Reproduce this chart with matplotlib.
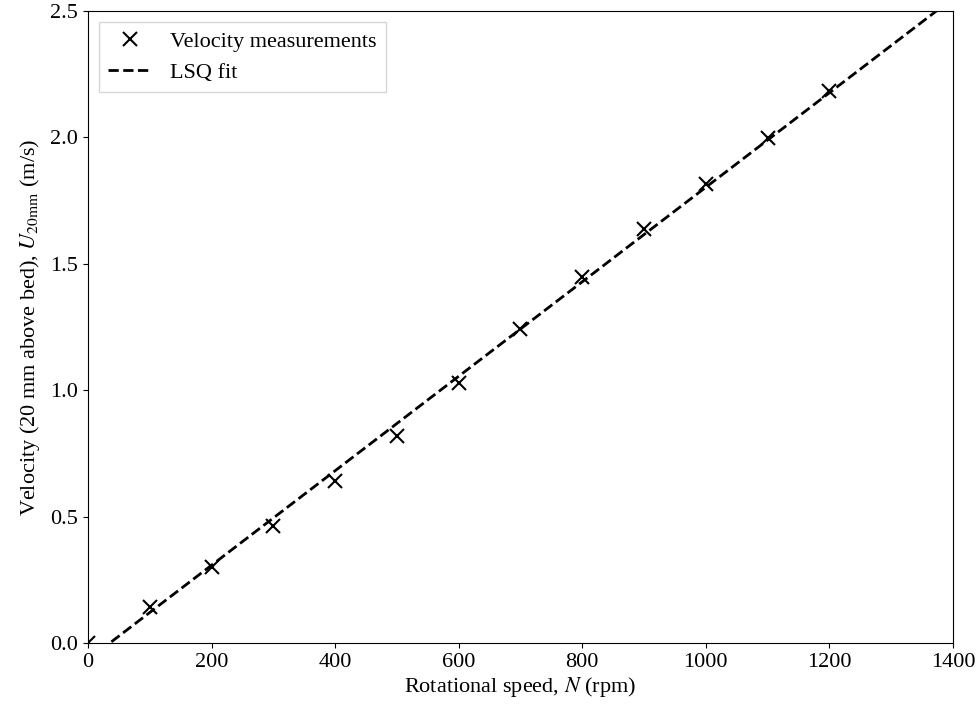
import numpy as np
import matplotlib
matplotlib.use("Agg")
import matplotlib.pyplot as plt

plt.rcParams['font.family'] = ['Liberation Serif', 'DejaVu Serif']
plt.rcParams['mathtext.fontset'] = 'stix'
plt.rcParams['font.size'] = 16

# rotational speed (rpm) and measured velocity 20 mm above bed (m/s)
rpm = np.array([0, 100, 200, 300, 400, 500, 600, 700, 800, 900, 1000, 1100, 1200])
vel = np.array([0.0, 0.142, 0.30, 0.463, 0.641, 0.819, 1.028, 1.242, 1.448,
                1.638, 1.816, 1.998, 2.184])

# least squares line through the measurements
coef = np.polyfit(rpm, vel, 1)
xfit = np.array([0, 1400])
yfit = np.polyval(coef, xfit)

fig, ax = plt.subplots(figsize=(9.79, 7.11), dpi=100)
fig.subplots_adjust(left=0.0899, right=0.9734, top=0.9845, bottom=0.0956)

ax.plot(rpm, vel, 'kx', markersize=10, markeredgewidth=1.5, label='Velocity measurements')
ax.plot(xfit, yfit, 'k--', linewidth=2, label='LSQ fit')

ax.set_xlim(0, 1400)
ax.set_ylim(0, 2.5)
ax.set_xlabel(r'Rotational speed, $N$ (rpm)', labelpad=2)
ax.set_ylabel(r'Velocity (20 mm above bed), $U_{20\mathrm{mm}}$ (m/s)', labelpad=6)
ax.legend(loc='upper left', fancybox=False, edgecolor='0.8')

fig.savefig('out.png', dpi=100)
